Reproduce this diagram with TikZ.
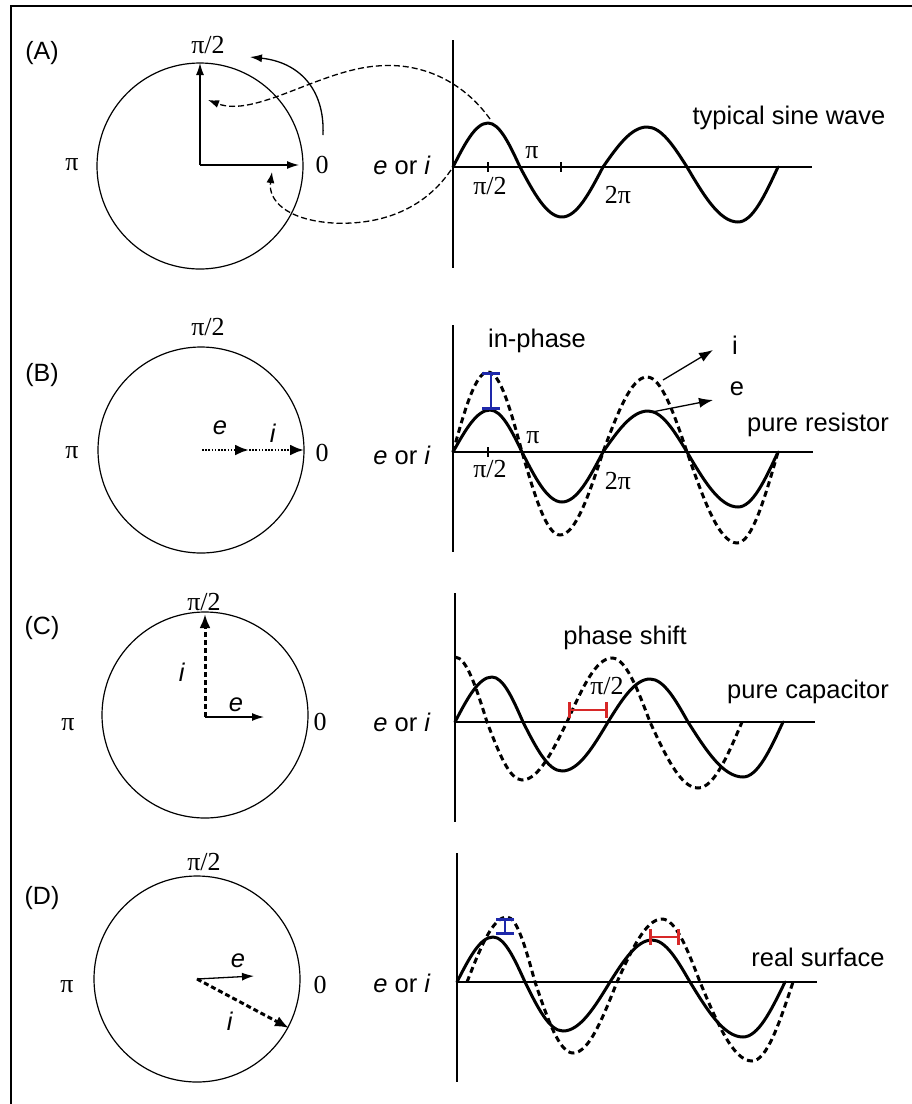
\documentclass[tikz,border=0pt]{standalone}
\usepackage{fontspec}
\setmainfont{Liberation Sans}
\newfontfamily\serifpi{Liberation Serif}
\usetikzlibrary{arrows.meta}
\definecolor{barblue}{RGB}{30,40,170}
\definecolor{barred}{RGB}{215,40,40}
\begin{document}
\begin{tikzpicture}[x=1pt,y=-1pt,
  phcirc/.style={draw, circle, line width=1.2pt, minimum size=206pt, inner sep=0pt},
  wave/.style={line width=3pt, line join=round, line cap=round},
  dwave/.style={line width=3pt, dash pattern=on 6pt off 4pt},
  axisline/.style={line width=2.8pt},
  phasor/.style={line width=1.3pt, -{Latex[length=12pt,width=8pt]}},
  dphasor/.style={line width=3pt, dash pattern=on 5pt off 3pt, -{Latex[length=14pt,width=11pt]}},
  dotphasor/.style={line width=2.6pt, dash pattern=on 1.6pt off 1.6pt, -{Latex[length=14pt,width=11pt]}},
  leader/.style={line width=1.3pt, -{Latex[length=14pt,width=10pt]}},
  curvearrow/.style={line width=1.3pt, dash pattern=on 6pt off 3pt, -{Latex[length=11pt,width=8pt]}},
  sans/.style={inner sep=0pt, font=\fontsize{25.5}{29}\selectfont},
  panel/.style={inner sep=0pt, font=\fontsize{25}{29}\selectfont},
  ser/.style={inner sep=0pt, font=\serifpi\fontsize{26}{29}\selectfont},
  tick/.style={line width=1.2pt},
  bluebar/.style={draw=barblue, line width=1.4pt, {Bar[width=18pt,line width=2.6pt]}-{Bar[width=18pt,line width=2.6pt]}},
  redbar/.style={draw=barred, line width=1.8pt, {Bar[width=16pt,line width=2.6pt]}-{Bar[width=16pt,line width=2.6pt]}}
]
\useasboundingbox (0,0) rectangle (912,1104);
% frame (only top and left edges visible)
\coordinate (frBL) at (11,1104);
\coordinate (frTL) at (11,6);
\coordinate (frTR) at (912,6);
\draw[line width=2.8pt] (frBL) -- (frTL) -- (frTR);

% ================= Panel A =================
\node[panel] (labA) at (42,53) {(A)};
\node[phcirc] (cA) at (200,166) {};
\coordinate (oA) at (200,165);
\coordinate (uA) at (200,63);
\coordinate (rA) at (299,165);
\draw[phasor] (oA) -- (uA);
\draw[phasor] (oA) -- (rA);
\node[ser] (pA2) at (208,45) {π/2};
\node[ser] (piA) at (72,165) {π};
\node[ser] (zA) at (322,165) {0};
\coordinate (rotS) at (323,135);
\coordinate (rotE) at (250,57);
\draw[phasor] (rotS) .. controls (325,88) and (298,62) .. (rotE);
\node[sans] (eiA) at (402,165) {\textit{e} or \textit{i}};
% axes
\coordinate (yAt) at (453,40);
\coordinate (yAb) at (453,268);
\coordinate (xA0) at (453,167);
\coordinate (xAe) at (812,167);
\draw[axisline] (yAt) -- (yAb);
\draw[axisline] (xA0) -- (xAe);
\draw[tick] (488,162) -- (488,172);
\draw[tick] (561,162) -- (561,172);
\draw[wave] (453,167) sin (488,123) cos (520,167) sin (562,217) cos (603,167) sin (647,127) cos (687,167) sin (738,222) cos (778,167);
\node[ser] (tA1) at (490,186) {π/2};
\node[ser] (tA2) at (532,153) {π};
\node[ser] (tA3) at (618,195) {2π};
\node[sans] (swA) at (789,118) {typical sine wave};
% dashed projection curves
\coordinate (pkA) at (490,119);
\coordinate (vtA) at (208,100);
\coordinate (orA) at (451,170);
\coordinate (hzA) at (272,172);
\draw[curvearrow] (pkA) .. controls (462,80) and (420,62) .. (377,66) .. controls (320,70) and (255,118) .. (vtA);
\draw[curvearrow] (orA) .. controls (420,215) and (372,225) .. (333,223) .. controls (286,220) and (268,200) .. (hzA);

% ================= Panel B =================
\node[panel] (labB) at (42,375) {(B)};
\node[phcirc] (cB) at (201,450) {};
\coordinate (oB) at (202,450);
\coordinate (mB) at (249,450);
\coordinate (rB) at (304,450);
\draw[dotphasor] (oB) -- (mB);
\draw[dotphasor] (mB) -- (rB);
\node[sans] (eB) at (220,428) {\textit{e}};
\node[sans] (iB) at (273,433) {\textit{i}};
\node[ser] (pB2) at (208,327) {π/2};
\node[ser] (piB) at (72,453) {π};
\node[ser] (zB) at (322,453) {0};
\node[sans] (eiB) at (402,455) {\textit{e} or \textit{i}};
\coordinate (yBt) at (453,325);
\coordinate (yBb) at (453,552);
\coordinate (xB0) at (453,452);
\coordinate (xBe) at (813,452);
\draw[axisline] (yBt) -- (yBb);
\draw[axisline] (xB0) -- (xBe);
\draw[tick] (488,447) -- (488,457);
\draw[dwave] (453,452) sin (488,372) cos (522,452) sin (560,535) cos (603,452) sin (647,377) cos (687,452) sin (737,543) cos (778,452);
\draw[wave] (453,452) sin (490,410) cos (522,452) sin (562,502) cos (603,452) sin (648,411) cos (687,452) sin (738,507) cos (778,452);
\coordinate (bBt) at (491,372);
\coordinate (bBb) at (491,410);
\draw[bluebar] (bBt) -- (bBb);
\node[sans] (inph) at (537,341) {in-phase};
\node[sans] (iwB) at (735,345) {i};
\node[sans] (ewB) at (737,389) {e};
\coordinate (iPk) at (663,380);
\coordinate (iTip) at (713,350);
\coordinate (ePk) at (652,412);
\coordinate (eTip) at (713,400);
\draw[leader] (iPk) -- (iTip);
\draw[leader] (ePk) -- (eTip);
\node[sans] (prB) at (818,425) {pure resistor};
\node[ser] (tB1) at (490,469) {π/2};
\node[ser] (tB2) at (533,438) {π};
\node[ser] (tB3) at (618,481) {2π};

% ================= Panel C =================
\node[panel] (labC) at (42,628) {(C)};
\node[phcirc] (cC) at (205,715) {};
\coordinate (oC) at (205,717);
\coordinate (uC) at (205,614);
\coordinate (rC) at (264,717);
\draw[dphasor] (oC) -- (uC);
\draw[phasor] (oC) -- (rC);
\node[sans] (iC) at (182,672) {\textit{i}};
\node[sans] (eC) at (236,705) {\textit{e}};
\node[ser] (pC2) at (204,602) {π/2};
\node[ser] (piC) at (68,725) {π};
\node[ser] (zC) at (320,722) {0};
\node[sans] (eiC) at (402,722) {\textit{e} or \textit{i}};
\coordinate (yCt) at (455,593);
\coordinate (yCb) at (455,822);
\coordinate (xC0) at (455,722);
\coordinate (xCe) at (815,722);
\draw[axisline] (yCt) -- (yCb);
\draw[axisline] (xC0) -- (xCe);
\draw[dwave] (455,657) cos (487,722) sin (522,780) cos (567,722) sin (612,658) cos (650,722) sin (698,788) cos (742,722);
\draw[wave] (455,722) sin (492,677) cos (523,722) sin (562,771) cos (608,722) sin (650,679) cos (688,722) sin (743,777) cos (783,722);
\coordinate (rCl) at (568,710);
\coordinate (rCr) at (608,710);
\draw[redbar] (rCl) -- (rCr);
\node[ser] (psC) at (607,686) {π/2};
\node[sans] (phs) at (625,638) {phase shift};
\node[sans] (pcC) at (808,692) {pure capacitor};

% ================= Panel D =================
\node[panel] (labD) at (42,898) {(D)};
\node[phcirc] (cD) at (197,979) {};
\coordinate (oD) at (197,979);
\coordinate (rD) at (254,976);
\coordinate (iD) at (289,1028);
\draw[phasor] (oD) -- (rD);
\draw[dphasor] (oD) -- (iD);
\node[sans] (eD) at (238,961) {\textit{e}};
\node[sans] (iDl) at (230,1021) {\textit{i}};
\node[ser] (pD2) at (204,862) {π/2};
\node[ser] (piD) at (67,987) {π};
\node[ser] (zD) at (320,985) {0};
\node[sans] (eiD) at (402,983) {\textit{e} or \textit{i}};
\coordinate (yDt) at (457,853);
\coordinate (yDb) at (457,1082);
\coordinate (xD0) at (457,982);
\coordinate (xDe) at (817,982);
\draw[axisline] (yDt) -- (yDb);
\draw[axisline] (xD0) -- (xDe);
\draw[dwave] (467,982) sin (507,917) cos (535,982) sin (573,1053) cos (617,982) sin (662,919) cos (700,982) sin (752,1061) cos (793,982);
\draw[wave] (457,982) sin (493,937) cos (525,982) sin (563,1031) cos (610,982) sin (652,940) cos (690,982) sin (743,1037) cos (785,982);
\coordinate (bDt) at (505,918);
\coordinate (bDb) at (505,935);
\draw[bluebar] (bDt) -- (bDb);
\coordinate (rDl) at (649,937);
\coordinate (rDr) at (680,937);
\draw[redbar] (rDl) -- (rDr);
\node[sans] (rsD) at (818,957) {real surface};
\end{tikzpicture}
\end{document}
